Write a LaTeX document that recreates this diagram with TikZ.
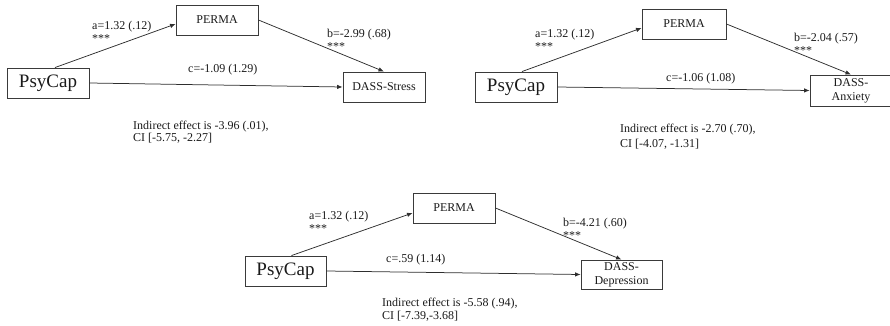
\documentclass[tikz,border=0pt]{standalone}
\usepackage{fontspec}
\setmainfont{Liberation Serif}
\usepackage{tikz}
\usetikzlibrary{arrows.meta,positioning}
\definecolor{BoxInk}{HTML}{3A3A3A}
\definecolor{PathInk}{HTML}{2E2E2E}
\definecolor{TextInk}{HTML}{1A1A1A}

\begin{document}
\begin{tikzpicture}[x=1pt, y=-1pt,
    varbox/.style={draw=BoxInk, line width=0.9pt, fill=white, inner sep=0pt,
      minimum width=82pt, minimum height=30pt, align=center, text=TextInk,
      font=\fontsize{12}{14}\selectfont},
    predbox/.style={varbox, font=\fontsize{19}{21}\selectfont},
    pathlab/.style={anchor=north west, inner sep=0pt, align=left, text=TextInk,
      font=\fontsize{12}{13}\selectfont},
    pathline/.style={draw=PathInk, line width=0.75pt,
      -{Latex[length=5.5pt,width=4.5pt]}}]
  \useasboundingbox (0,0) rectangle (890,326);

  % stress model
  \node[predbox] (psyA) at (48,83) {PsyCap};
  \node[varbox] (permaA) at (217,20) {PERMA};
  \node[varbox] (stressA) at (384,87) {DASS-Stress};
  \draw[pathline] ([xshift=7pt]psyA.north) -- ([yshift=-4pt]permaA.west);
  \draw[pathline] (permaA.east) -- (stressA.north);
  \draw[pathline] (psyA.east) -- (stressA.west);
  \node[pathlab] (alabA) at (92,20.5) {a=1.32 (.12)\\***};
  \node[pathlab] (blabA) at (327,28.5) {b=-2.99 (.68)\\***};
  \node[pathlab, anchor=west] (clabA) at (188,70) {c=-1.09 (1.29)};
  \node[pathlab, font=\fontsize{12}{12.5}\selectfont] (indA) at (133,120.5)
    {Indirect effect is -3.96 (.01),\\CI [-5.75, -2.27]};

  % anxiety model
  \node[predbox] (psyB) at (516,87) {PsyCap};
  \node[varbox, minimum width=84pt] (permaB) at (684,24) {PERMA};
  \node[varbox, minimum height=31pt] (anxB) at (851,90.5) {DASS-\\Anxiety};
  \draw[pathline] ([xshift=6pt]psyB.north) -- ([yshift=-4pt]permaB.west);
  \draw[pathline] (permaB.east) -- (anxB.north);
  \draw[pathline] (psyB.east) -- (anxB.west);
  \node[pathlab] (alabB) at (535,28.5) {a=1.32 (.12)\\***};
  \node[pathlab] (blabB) at (794,32.5) {b=-2.04 (.57)\\***};
  \node[pathlab, anchor=west] (clabB) at (666,79) {c=-1.06 (1.08)};
  \node[pathlab, font=\fontsize{12}{15.5}\selectfont] (indB) at (620,123.5)
    {Indirect effect is -2.70 (.70),\\CI [-4.07, -1.31]};

  % depression model
  \node[predbox, minimum width=81pt] (psyC) at (285.5,271) {PsyCap};
  \node[varbox] (permaC) at (454,208) {PERMA};
  \node[varbox, minimum width=81pt, minimum height=29pt] (depC) at (621.5,274.5) {DASS-\\Depression};
  \draw[pathline] ([xshift=6pt]psyC.north) -- ([yshift=-5pt]permaC.west);
  \draw[pathline] (permaC.east) -- (depC.north);
  \draw[pathline] (psyC.east) -- (depC.west);
  \node[pathlab] (alabC) at (309,210.5) {a=1.32 (.12)\\***};
  \node[pathlab] (blabC) at (563,217.5) {b=-4.21 (.60)\\***};
  \node[pathlab, anchor=west] (clabC) at (386,260) {c=.59 (1.14)};
  \node[pathlab, font=\fontsize{12}{13}\selectfont] (indC) at (382,297.5)
    {Indirect effect is -5.58 (.94),\\CI [-7.39,-3.68]};
\end{tikzpicture}
\end{document}
